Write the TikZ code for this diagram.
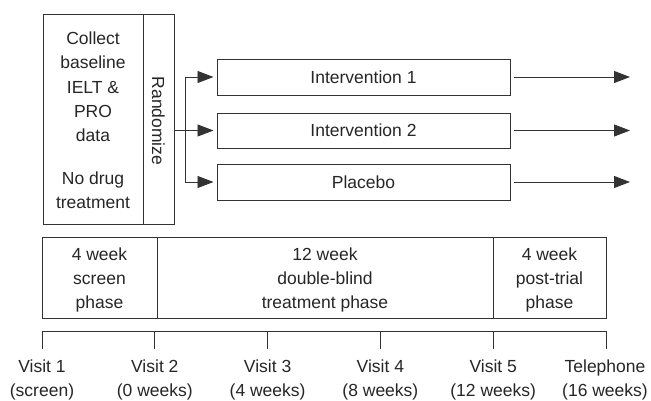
\documentclass[tikz,border=0pt]{standalone}
\usepackage{fontspec}
\setmainfont{Liberation Sans}
\usetikzlibrary{arrows.meta}
\begin{document}
\begin{tikzpicture}[x=1pt,y=-1pt,
  ln/.style={draw=black!80,line width=0.9pt},
  bx/.style={ln,rectangle,inner sep=0pt,outer sep=0pt},
  txt/.style={font=\fontsize{17.5}{24.3}\selectfont,align=center,inner sep=0pt,text=black!85},
  arr/.style={ln,-{Triangle[length=16pt,width=12pt]}}]
\useasboundingbox (0,0) rectangle (651,401);
% left boxes
\node[bx,minimum width=100pt,minimum height=210pt] (collect) at (93,119) {};
\node[bx,minimum width=31pt,minimum height=210pt] (rand) at (158.5,119) {};
\node[txt] (ct1) at (93,87) {Collect\\baseline\\IELT \&\\PRO\\data};
\node[txt] (ct2) at (93,190) {No drug\\treatment};
\node[txt,rotate=-90] (rt) at (158.5,121) {Randomize};
% interventions
\node[bx,minimum width=293pt,minimum height=36pt] (i1) at (363.5,77) {};
\node[bx,minimum width=293pt,minimum height=35pt] (i2) at (363.5,130.5) {};
\node[bx,minimum width=293pt,minimum height=36pt] (i3) at (363.5,182) {};
\node[txt] (i1t) at (363.5,77) {Intervention 1};
\node[txt] (i2t) at (363.5,130.5) {Intervention 2};
\node[txt] (i3t) at (363.5,182) {Placebo};
\coordinate (br) at (185,130.5);
\draw[ln] (rand.east |- i2.west) -- (br);
\draw[ln] (br |- i1.west) -- (br |- i3.west);
\draw[arr,shorten >=3.5pt] (br |- i1.west) -- (i1.west);
\draw[arr,shorten >=3.5pt] (br) -- (i2.west);
\draw[arr,shorten >=3.5pt] (br |- i3.west) -- (i3.west);
\coordinate (e1) at (630,77);
\coordinate (e2) at (630,130.5);
\coordinate (e3) at (630,182);
\draw[arr,shorten <=4pt] (i1.east) -- (e1);
\draw[arr,shorten <=4pt] (i2.east) -- (e2);
\draw[arr,shorten <=4pt] (i3.east) -- (e3);
% phases
\node[bx,minimum width=115pt,minimum height=81pt] (p1) at (99.5,277.5) {};
\node[bx,minimum width=336pt,minimum height=81pt] (p2) at (325,277.5) {};
\node[bx,minimum width=113pt,minimum height=81pt] (p3) at (549.5,277.5) {};
\node[txt] (p1t) at (99.5,280) {4 week\\screen\\phase};
\node[txt] (p2t) at (325,280) {12 week\\double-blind\\treatment phase};
\node[txt] (p3t) at (549.5,280) {4 week\\post-trial\\phase};
% timeline
\foreach \i/\x in {1/42,2/154.8,3/267.6,4/380.4,5/493.2,6/606}{
  \coordinate (t\i) at (\x,331);
  \coordinate (b\i) at (\x,349);
  \draw[ln] (t\i) -- (b\i);
}
\draw[ln] (t1) -- (t6);
\node[txt] (v1) at (42,380) {Visit 1\\(screen)};
\node[txt] (v2) at (154.8,380) {Visit 2\\(0 weeks)};
\node[txt] (v3) at (267.6,380) {Visit 3\\(4 weeks)};
\node[txt] (v4) at (380.4,380) {Visit 4\\(8 weeks)};
\node[txt] (v5) at (493.2,380) {Visit 5\\(12 weeks)};
\node[txt] (v6) at (605,380) {Telephone\\(16 weeks)};
\end{tikzpicture}
\end{document}
